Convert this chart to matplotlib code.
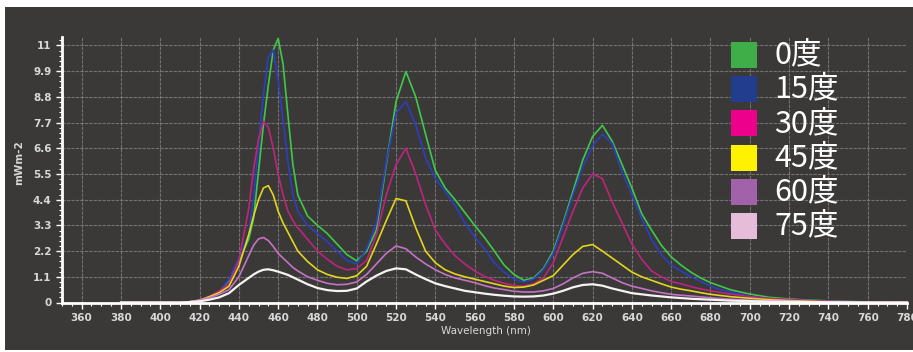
import matplotlib.pyplot as plt
from matplotlib.patches import Rectangle
from matplotlib.ticker import MultipleLocator, FixedLocator

plt.rcParams['font.family'] = ['Liberation Sans Narrow', 'DejaVu Sans']

# wavelength samples (nm)
wavelength = [380, 400, 410, 415, 420, 425, 430, 435, 440, 445, 447.5, 450, 452.5,
              455, 457.5, 460, 462.5, 465, 467.5,
              470, 475, 480, 485, 490, 495, 500, 505, 510, 515, 520, 525, 530, 535,
              540, 545, 550, 555, 560, 565, 570, 575, 580, 585, 590, 595, 600, 605,
              610, 615, 620, 625, 630, 635, 640, 645, 650, 655, 660, 665, 670, 675,
              680, 685, 690, 700, 710, 720, 730, 740, 760, 780]

deg0 = [0, 0, 0, 0.03, 0.08, 0.2, 0.45, 0.95, 1.8, 2.7, 3.6, 5.6, 7.6,
        9.3, 10.8, 11.3, 10.2, 8.0, 5.9,
        4.6, 3.7, 3.3, 2.95, 2.5, 2.05, 1.78, 2.2, 3.1, 5.9, 8.6, 9.88, 8.8, 7.2,
        5.65, 4.9, 4.4, 3.85, 3.3, 2.78, 2.2, 1.6, 1.2, 0.95, 1.05, 1.45, 2.2, 3.4,
        4.75, 6.1, 7.1, 7.58, 6.9, 5.9, 4.9, 3.8, 3.1, 2.45, 1.95, 1.6, 1.3, 1.05,
        0.85, 0.7, 0.55, 0.36, 0.22, 0.15, 0.1, 0.07, 0.02, 0]
deg15 = [0, 0, 0, 0.03, 0.08, 0.2, 0.45, 1.0, 1.9, 2.9, 4.5, 6.7, 8.9,
         10.5, 10.8, 9.5, 7.8, 6.0, 4.6,
         3.9, 3.3, 2.95, 2.6, 2.2, 1.8, 1.65, 2.3, 3.4, 6.0, 8.1, 8.6, 7.6, 6.2,
         5.3, 4.75, 4.15, 3.4, 2.8, 2.3, 1.7, 1.3, 1.0, 0.88, 1.0, 1.4, 2.1, 3.3,
         4.6, 5.8, 6.7, 7.2, 6.8, 5.6, 4.6, 3.6, 2.7, 2.05, 1.6, 1.35, 1.1, 0.9,
         0.7, 0.55, 0.45, 0.27, 0.17, 0.12, 0.08, 0.05, 0.02, 0]
deg30 = [0, 0, 0, 0.03, 0.1, 0.25, 0.5, 0.8, 1.8, 4.0, 5.7, 7.0, 7.75,
         7.5, 6.6, 5.5, 4.6, 3.9, 3.5,
         3.2, 2.7, 2.2, 1.85, 1.55, 1.4, 1.45, 1.8, 2.9, 4.6, 5.9, 6.6, 5.5, 4.2,
         3.1, 2.5, 2.0, 1.65, 1.35, 1.12, 0.95, 0.82, 0.72, 0.7, 0.8, 1.05, 1.7, 2.8,
         3.9, 4.9, 5.5, 5.3, 4.3, 3.4, 2.5, 1.85, 1.35, 1.1, 0.9, 0.8, 0.68, 0.58,
         0.5, 0.43, 0.36, 0.25, 0.17, 0.12, 0.08, 0.05, 0.02, 0]
deg45 = [0, 0, 0, 0.03, 0.1, 0.25, 0.42, 0.7, 1.55, 2.9, 3.7, 4.4, 4.9,
         5.0, 4.6, 3.9, 3.4, 3.0, 2.6,
         2.2, 1.75, 1.4, 1.2, 1.08, 1.03, 1.15, 1.55, 2.5, 3.5, 4.45, 4.35, 3.2, 2.2,
         1.7, 1.4, 1.22, 1.1, 1.0, 0.9, 0.8, 0.7, 0.64, 0.66, 0.75, 0.95, 1.15, 1.6,
         2.05, 2.4, 2.48, 2.2, 1.9, 1.6, 1.3, 1.1, 0.95, 0.8, 0.66, 0.57, 0.5, 0.42,
         0.35, 0.3, 0.25, 0.18, 0.12, 0.08, 0.05, 0.03, 0.01, 0]
deg60 = [0, 0, 0, 0.03, 0.1, 0.2, 0.35, 0.55, 1.1, 2.0, 2.45, 2.72, 2.78,
         2.65, 2.4, 2.1, 1.9, 1.7, 1.5,
         1.35, 1.1, 0.95, 0.82, 0.76, 0.78, 0.88, 1.2, 1.65, 2.1, 2.42, 2.3, 1.95, 1.65,
         1.4, 1.2, 1.05, 0.95, 0.85, 0.72, 0.62, 0.55, 0.48, 0.45, 0.45, 0.5, 0.6, 0.8,
         1.05, 1.25, 1.32, 1.25, 1.05, 0.85, 0.7, 0.6, 0.5, 0.42, 0.35, 0.31, 0.28, 0.24,
         0.2, 0.17, 0.14, 0.1, 0.07, 0.05, 0.03, 0.02, 0.01, 0]
deg75 = [0, 0, 0, 0.02, 0.05, 0.12, 0.22, 0.4, 0.75, 1.05, 1.2, 1.32, 1.4,
         1.42, 1.38, 1.32, 1.25, 1.18, 1.08,
         0.98, 0.78, 0.62, 0.53, 0.49, 0.5, 0.6, 0.9, 1.15, 1.35, 1.46, 1.42, 1.2, 1.0,
         0.82, 0.7, 0.6, 0.5, 0.44, 0.38, 0.33, 0.29, 0.26, 0.25, 0.26, 0.3, 0.38, 0.5,
         0.65, 0.75, 0.78, 0.72, 0.6, 0.5, 0.4, 0.35, 0.3, 0.26, 0.22, 0.19, 0.16, 0.14,
         0.12, 0.1, 0.08, 0.06, 0.04, 0.03, 0.02, 0.01, 0, 0]

labels = ['0度', '15度', '30度', '45度', '60度', '75度']
series = [deg0, deg15, deg30, deg45, deg60, deg75]
line_colors = ['#3ec94a', '#2b3fbf', '#c0237e', '#e3d51c', '#c473c4', '#f6f2f2']
swatch_colors = ['#3fae49', '#223d8d', '#ec008c', '#fff200', '#a262a9', '#e6bdd8']

yticks = [0, 1.1, 2.2, 3.3, 4.4, 5.5, 6.6, 7.7, 8.8, 9.9, 11]
ytick_labels = ['0', '1.1', '2.2', '3.3', '4.4', '5.5', '6.6', '7.7', '8.8', '9.9', '11']

BG = '#3a3938'
W, H = 913, 352

fig = plt.figure(figsize=(W / 100, H / 100), dpi=100, facecolor='white')
fig.patches.append(Rectangle((5 / W, 2 / H), 1 - 5 / W, 1 - 9 / H,
                             transform=fig.transFigure, facecolor=BG,
                             edgecolor='none', zorder=-10))

ax = fig.add_axes([62 / W, 1 - 302.5 / H, (907 - 62) / W, (302.5 - 37) / H])
ax.set_facecolor(BG)

for vals, col in zip(series, line_colors):
    lw = 1.6 if col == '#f6f2f2' else 1.2
    ax.plot(wavelength, vals, color=col, lw=lw, zorder=3, clip_on=False,
            solid_joinstyle='round')

ax.set_xlim(350, 780)
ax.set_ylim(0, 11.36)
ax.set_xticks(range(360, 781, 20))
ax.xaxis.set_minor_locator(MultipleLocator(5))
ax.yaxis.set_major_locator(FixedLocator(yticks))
ax.set_yticklabels(ytick_labels)
ax.yaxis.set_minor_locator(MultipleLocator(0.22))

ax.grid(True, which='major', color='#8a8a8a', lw=0.8, alpha=0.7,
        linestyle=(0, (3, 1)))
ax.set_axisbelow(True)

for s in ['top', 'right']:
    ax.spines[s].set_visible(False)
for s in ['left', 'bottom']:
    ax.spines[s].set_color('white')
    ax.spines[s].set_linewidth(2)
    ax.spines[s].set_zorder(4)

ax.tick_params(which='major', colors='white', labelcolor='#d8d8d8',
               labelsize=7.5, length=4, width=1)
ax.tick_params(which='minor', colors='white', length=2, width=0.8)
for t in ax.get_xticklabels() + ax.get_yticklabels():
    t.set_fontweight('bold')

fig.text(486 / W, 1 - 331 / H, 'Wavelength (nm)', color='#d8d8d8',
         fontsize=7.5, ha='center', va='center')
fig.text(19 / W, 1 - 163 / H, 'mWm-2', color='#d8d8d8', fontsize=7.5,
         rotation=90, ha='center', va='center', fontweight='bold')

# legend squares and labels
for i, (lab, col) in enumerate(zip(labels, swatch_colors)):
    yc = 55 + i * 34.2
    fig.patches.append(Rectangle((731 / W, 1 - (yc + 13) / H), 26 / W, 26 / H,
                                 transform=fig.transFigure, facecolor=col,
                                 edgecolor='none', zorder=5))
    fig.text(774 / W, 1 - yc / H, lab, color='white', fontsize=22,
             family=['Noto Sans CJK JP', 'DejaVu Sans'],
             ha='left', va='center', zorder=6)

fig.savefig('out.png', dpi=100, facecolor=fig.get_facecolor())
